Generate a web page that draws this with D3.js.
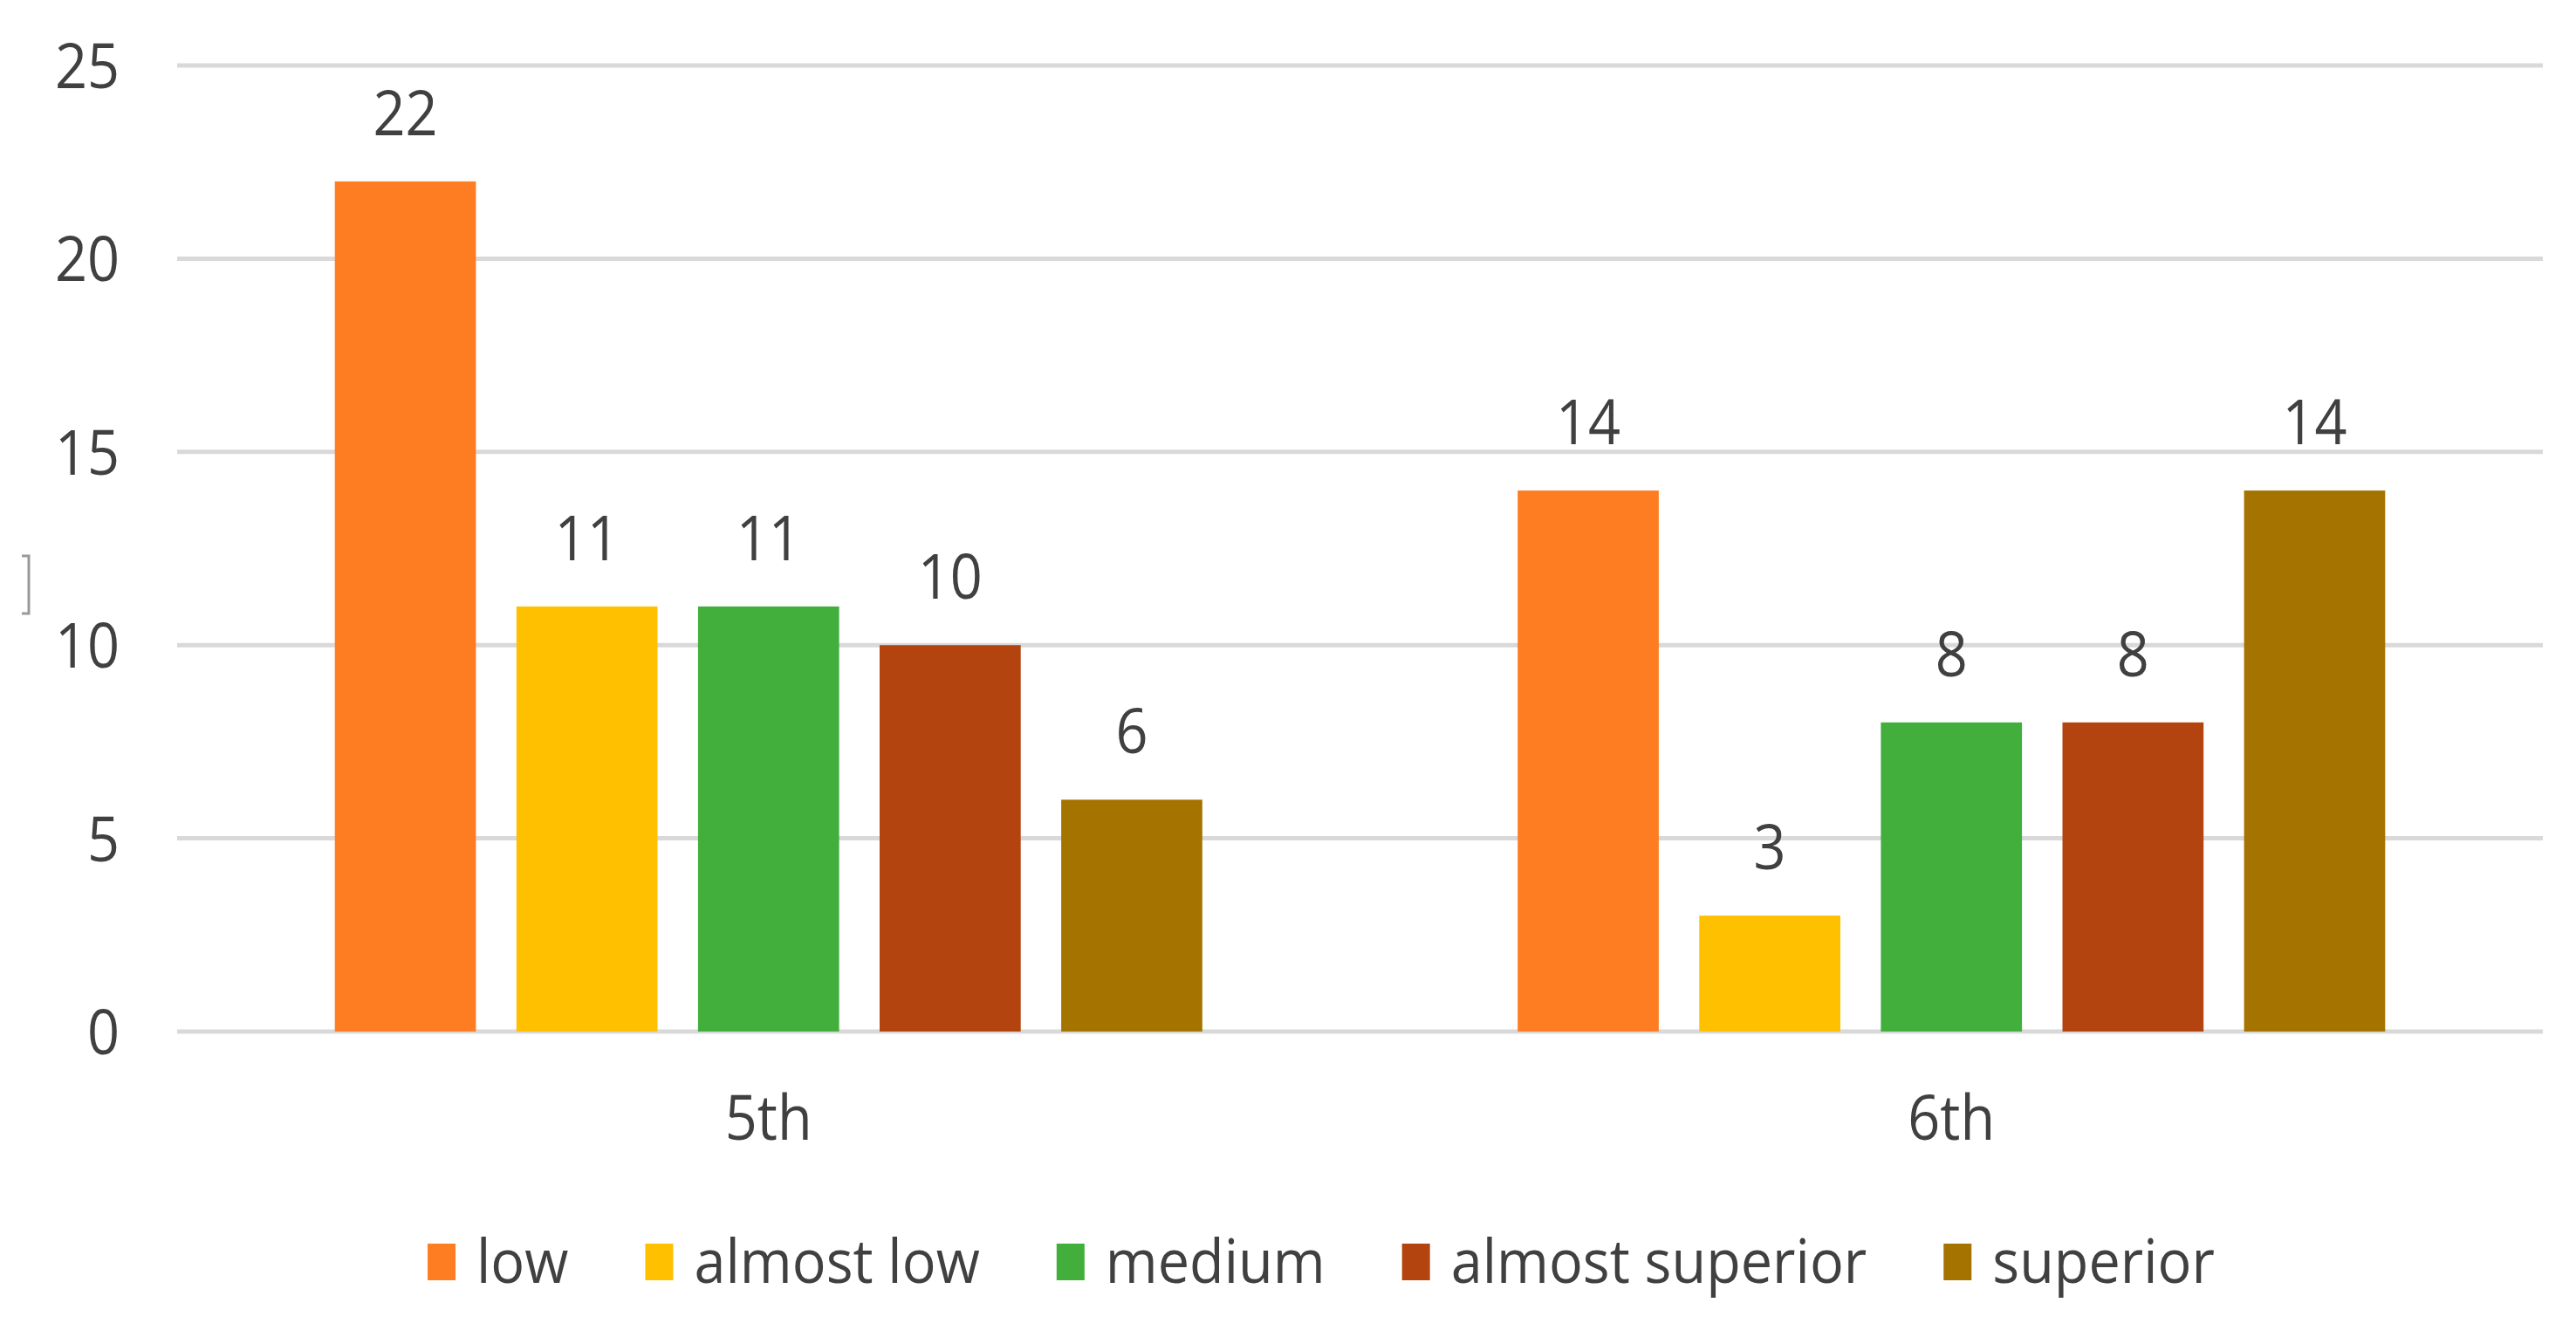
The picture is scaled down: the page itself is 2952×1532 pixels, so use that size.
<!DOCTYPE html>
<html>
<head>
<meta charset="utf-8">
<script src="https://cdn.jsdelivr.net/npm/d3@7"></script>
<style>
  html, body { margin: 0; padding: 0; background: #ffffff; }
  svg { display: block; }
  text { font-family: "Open Sans", "DejaVu Sans", sans-serif; fill: #404040; }
</style>
</head>
<body>
<svg id="chart" width="2952" height="1532"></svg>
<script>
// ---- data ----
const categories = ["5th", "6th"];
const seriesNames = ["low", "almost low", "medium", "almost superior", "superior"];
const seriesColors = ["#FE7D23", "#FFC000", "#42AE3B", "#B4440F", "#A57300"];
const values5th = [22, 11, 11, 10, 6];
const values6th = [14, 3, 8, 8, 14];
const yTicks = [0, 5, 10, 15, 20, 25];

const valuesByCategory = [values5th, values6th];
const rows = categories.map((c, i) => ({
  category: c,
  items: seriesNames.map((s, j) => ({ series: s, value: valuesByCategory[i][j], color: seriesColors[j] }))
}));

// ---- layout ----
const plotLeft = 203, plotRight = 2914, plotTop = 75, plotBottom = 1182;
const fontSize = 72, sx = 0.9;

const svg = d3.select("#chart");

const y = d3.scaleLinear().domain([0, 25]).range([plotBottom, plotTop]);
const x0 = d3.scaleBand().domain(categories).range([plotLeft, plotRight]).paddingInner(0).paddingOuter(0);
const bw = x0.bandwidth();
const groupPad = bw * 0.1333;
const x1 = d3.scaleBand().domain(seriesNames).range([groupPad, bw - groupPad]).paddingInner(0.223).paddingOuter(0);

// gridlines
svg.append("g").selectAll("line").data(yTicks).join("line")
  .attr("x1", plotLeft).attr("x2", plotRight)
  .attr("y1", d => y(d)).attr("y2", d => y(d))
  .attr("stroke", "#d9d9d9").attr("stroke-width", 5);

// y tick labels
svg.append("g").selectAll("text").data(yTicks).join("text")
  .attr("transform", d => `translate(137,${y(d) + 26}) scale(${sx},1)`)
  .attr("text-anchor", "end")
  .attr("font-size", fontSize)
  .text(d => d);

// bars
const groups = svg.append("g").selectAll("g").data(rows).join("g")
  .attr("transform", d => `translate(${x0(d.category)},0)`);

groups.selectAll("rect").data(d => d.items).join("rect")
  .attr("x", d => x1(d.series))
  .attr("width", x1.bandwidth())
  .attr("y", d => y(d.value))
  .attr("height", d => y(0) - y(d.value))
  .attr("fill", d => d.color);

// data labels
groups.selectAll("text").data(d => d.items).join("text")
  .attr("transform", d => `translate(${x1(d.series) + x1.bandwidth() / 2},${y(d.value) - 53}) scale(${sx},1)`)
  .attr("text-anchor", "middle")
  .attr("font-size", fontSize)
  .text(d => d.value);

// category labels
svg.append("g").selectAll("text").data(categories).join("text")
  .attr("transform", d => `translate(${x0(d) + bw / 2},1306) scale(${sx},1)`)
  .attr("text-anchor", "middle")
  .attr("font-size", fontSize)
  .text(d => d);

// small bracket artifact at left edge
svg.append("path")
  .attr("d", "M 25 637 L 33 637 L 33 703 L 25 703")
  .attr("fill", "none").attr("stroke", "#9a9a9a").attr("stroke-width", 3);

// legend
const legend = svg.append("g").attr("transform", "translate(490,0)");
const legendFont = 70, legendSx = 0.925;
let cursor = 0;
seriesNames.forEach((s, i) => {
  const g = legend.append("g").attr("transform", `translate(${cursor},0)`);
  g.append("rect").attr("x", 0).attr("y", 1425).attr("width", 32).attr("height", 42).attr("fill", seriesColors[i]);
  const t = g.append("text")
    .attr("transform", `translate(56,1470) scale(${legendSx},1)`)
    .attr("font-size", legendFont)
    .text(s);
  const w = t.node().getComputedTextLength() * legendSx;
  cursor += 56 + w + 88;
});
</script>
</body>
</html>
